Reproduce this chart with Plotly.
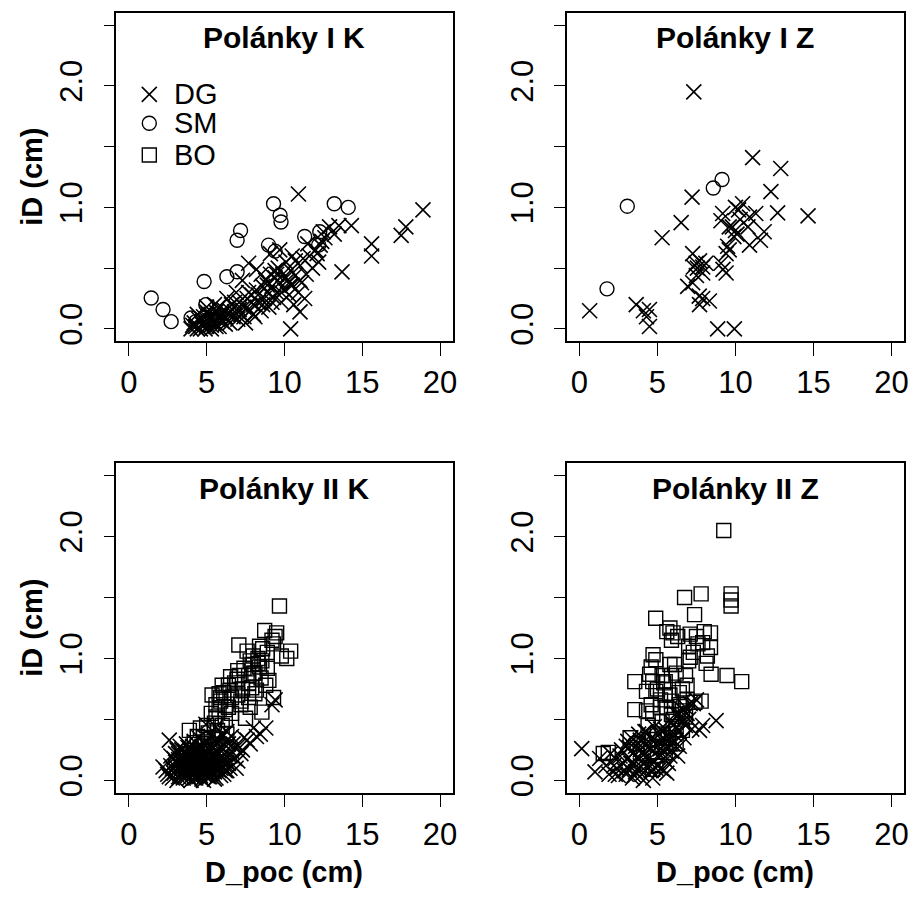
import plotly.graph_objects as go

# ---------------- data ----------------
panel_titles = ["Polánky I K", "Polánky I Z", "Polánky II K", "Polánky II Z"]
species = ["DG", "SM", "BO"]
x_ticks = [0, 5, 10, 15, 20]
y_ticks = [0, 0.5, 1.0, 1.5, 2.0, 2.5]
y_ticktext = ["0.0", "", "1.0", "", "2.0", ""]

# Polánky I K
IK_DG_x = [4.0, 4.2, 4.3, 4.5, 4.6, 4.7, 4.8, 4.9, 5.0, 5.1, 5.2, 5.3, 5.4, 5.5, 5.6, 5.7, 5.8, 5.9, 6.0, 6.1,
           6.2, 4.4, 5.0, 5.5, 6.4, 6.5, 6.6, 6.8, 7.0, 7.1, 7.2, 7.4, 7.5, 7.6, 7.8, 7.9, 8.0, 8.1, 8.2, 8.3,
           8.5, 8.6, 8.7, 8.8, 8.9, 9.0, 9.1, 9.2, 9.3, 9.4, 9.5, 9.6, 9.7, 9.8, 9.9, 10.0, 10.1, 10.2, 10.3, 10.4,
           10.5, 10.6, 10.7, 10.9, 11.0, 11.1, 11.3, 11.4, 11.6, 11.8, 12.0, 12.2, 12.4, 12.5, 12.9, 13.5, 14.3, 13.7, 12.3, 10.4,
           10.9, 15.6, 15.6, 17.5, 17.8, 18.9, 7.7, 8.2, 7.3, 6.9, 6.3, 9.1, 9.7, 10.5, 11.0, 11.5,
           4.1, 4.4, 4.7, 5.0, 5.3, 5.6, 5.9, 6.2, 6.5, 6.8, 7.1, 7.4, 7.7, 8.0, 8.3, 8.6, 8.9, 9.2, 9.5, 9.8,
           10.1, 10.4, 10.7, 11.0, 4.9, 5.8, 6.7, 7.6, 8.5, 9.4, 10.3, 11.2, 12.1, 12.6, 13.2]
IK_DG_y = [0.00, 0.05, 0.02, 0.08, 0.00, 0.04, 0.10, 0.06, 0.02, 0.12, 0.07, 0.03, 0.10, 0.05, 0.14, 0.08, 0.02, 0.12, 0.06, 0.16,
           0.10, 0.12, 0.18, 0.20, 0.12, 0.05, 0.20, 0.14, 0.08, 0.22, 0.12, 0.18, 0.05, 0.25, 0.15, 0.28, 0.20, 0.10, 0.32, 0.22,
           0.15, 0.35, 0.25, 0.40, 0.30, 0.18, 0.45, 0.35, 0.26, 0.42, 0.30, 0.50, 0.38, 0.22, 0.45, 0.32, 0.55, 0.40, 0.28, 0.48,
           0.36, 0.20, 0.44, 0.30, 0.52, 0.38, 0.25, 0.45, 0.60, 0.50, 0.65, 0.55, 0.72, 0.80, 0.84, 0.85, 0.85, 0.47, 0.69, 0.00,
           1.11, 0.70, 0.60, 0.77, 0.84, 0.98, 0.54, 0.49, 0.40, 0.30, 0.25, 0.62, 0.65, 0.60, 0.14, 0.70,
           0.03, 0.00, 0.08, 0.14, 0.00, 0.02, 0.09, 0.04, 0.15, 0.22, 0.16, 0.10, 0.30, 0.12, 0.28, 0.20, 0.36, 0.22, 0.45, 0.30,
           0.42, 0.36, 0.56, 0.40, 0.00, 0.18, 0.10, 0.18, 0.45, 0.48, 0.38, 0.58, 0.62, 0.75, 0.78]
IK_SM_x = [1.44, 2.2, 2.72, 4.0, 4.3, 4.95, 4.84, 6.3, 6.96, 6.96, 7.18, 8.98, 9.3, 9.72, 9.78, 9.4, 11.3, 12.27, 12.2, 13.2, 14.1, 5.5]
IK_SM_y = [0.255, 0.16, 0.06, 0.09, 0.06, 0.20, 0.39, 0.43, 0.47, 0.73, 0.81, 0.69, 1.03, 0.935, 0.88, 0.64, 0.76, 0.80, 0.69, 1.03, 1.00, 0.08]
IK_BO_x = []
IK_BO_y = []

# Polánky I Z
IZ_DG_x = [7.33, 0.66, 3.64, 4.1, 4.49, 4.49, 4.3, 5.3, 6.52, 7.22, 11.1, 12.9, 12.27, 12.7, 14.65, 11.3, 10.46, 10.2, 10.9, 10.8,
           11.84, 11.6, 10.9, 9.8, 10.0, 9.6, 10.1, 9.9, 9.18, 9.07, 9.5, 9.4, 9.6, 9.07, 9.4, 9.2, 7.26, 7.48, 7.7, 7.9,
           7.3, 8.1, 7.56, 6.94, 7.26, 7.68, 7.9, 8.33, 8.86, 9.93, 7.5, 7.9, 7.7, 10.3, 10.0]
IZ_DG_y = [1.95, 0.15, 0.20, 0.15, 0.16, 0.02, 0.10, 0.75, 0.875, 1.085, 1.41, 1.32, 1.13, 0.955, 0.93, 0.95, 1.03, 0.98, 0.92, 0.84,
           0.80, 0.73, 0.69, 0.84, 0.81, 0.84, 0.78, 0.76, 0.95, 0.89, 0.68, 0.62, 0.65, 0.54, 0.46, 0.49, 0.62, 0.54, 0.56, 0.51,
           0.51, 0.54, 0.50, 0.35, 0.38, 0.27, 0.25, 0.23, 0.00, 0.00, 0.44, 0.46, 0.20, 0.90, 1.00]
IZ_SM_x = [3.07, 1.77, 8.58, 9.14]
IZ_SM_y = [1.01, 0.33, 1.16, 1.23]
IZ_BO_x = []
IZ_BO_y = []

# Polánky II K
IIK_DG_x = [2.5, 2.7, 2.8, 2.9, 3.0, 3.1, 3.1, 3.2, 3.3, 3.3, 3.4, 3.5, 3.5, 3.6, 3.6, 3.7, 3.7, 3.8, 3.8, 3.9,
            3.9, 4.0, 4.0, 4.1, 4.1, 4.2, 4.2, 4.3, 4.3, 4.4, 4.4, 4.5, 4.5, 4.6, 4.6, 4.7, 4.7, 4.8, 4.8, 4.9,
            4.9, 5.0, 5.0, 5.1, 5.1, 5.2, 5.2, 5.3, 5.3, 5.4, 5.4, 5.5, 5.5, 5.6, 5.6, 5.7, 5.8, 5.8, 5.9, 6.0,
            6.0, 6.1, 6.2, 6.3, 6.4, 6.5, 6.6, 6.8, 7.0, 7.2, 3.4, 4.0, 4.5, 5.0, 3.6, 4.2, 4.8, 5.5, 5.9, 4.4,
            2.6, 2.2, 8.45, 8.0, 7.6, 8.8, 4.95, 9.4, 9.2, 5.6, 6.3, 3.0,
            2.4, 2.6, 2.8, 3.0, 3.2, 3.4, 3.6, 3.8, 4.0, 4.2, 4.4, 4.6, 4.8, 5.0, 5.2, 5.4, 5.6, 5.8, 6.0, 6.2,
            2.7, 2.9, 3.1, 3.3, 3.5, 3.7, 3.9, 4.1, 4.3, 4.5, 4.7, 4.9, 5.1, 5.3, 5.5, 5.7, 5.9, 6.1, 6.3, 6.5,
            3.0, 3.2, 3.4, 3.6, 3.8, 4.0, 4.2, 4.4, 4.6, 4.8, 5.0, 5.2, 5.4, 5.6, 5.8, 6.0, 6.4, 6.7, 7.0, 7.3,
            3.5, 3.9, 4.3, 4.7, 5.1, 5.5, 5.9, 6.3, 3.3, 4.1, 4.9, 5.7, 6.6, 6.9, 7.4, 7.8, 8.2, 4.6, 5.3, 6.2]
IIK_DG_y = [0.05, 0.12, 0.02, 0.18, 0.08, 0.00, 0.14, 0.22, 0.05, 0.28, 0.10, 0.16, 0.02, 0.24, 0.07, 0.12, 0.30, 0.04, 0.19, 0.09,
            0.26, 0.00, 0.14, 0.21, 0.06, 0.32, 0.11, 0.17, 0.02, 0.25, 0.08, 0.13, 0.35, 0.04, 0.20, 0.10, 0.28, 0.15, 0.00, 0.22,
            0.07, 0.12, 0.31, 0.03, 0.18, 0.25, 0.09, 0.14, 0.36, 0.05, 0.21, 0.11, 0.29, 0.16, 0.02, 0.23, 0.08, 0.33, 0.18, 0.12,
            0.27, 0.05, 0.21, 0.15, 0.30, 0.10, 0.24, 0.18, 0.28, 0.22, 0.20, 0.24, 0.18, 0.20, 0.15, 0.05, 0.09, 0.07, 0.10, 0.15,
            0.33, 0.11, 0.38, 0.43, 0.33, 0.43, 0.46, 0.66, 0.62, 0.44, 0.40, 0.22,
            0.08, 0.03, 0.10, 0.15, 0.03, 0.07, 0.19, 0.13, 0.08, 0.02, 0.20, 0.26, 0.05, 0.17, 0.03, 0.27, 0.09, 0.14, 0.20, 0.08,
            0.20, 0.06, 0.25, 0.16, 0.08, 0.22, 0.02, 0.28, 0.09, 0.03, 0.17, 0.14, 0.26, 0.06, 0.19, 0.12, 0.27, 0.16, 0.08, 0.20,
            0.11, 0.17, 0.25, 0.04, 0.27, 0.18, 0.24, 0.05, 0.14, 0.31, 0.06, 0.20, 0.15, 0.34, 0.22, 0.38, 0.14, 0.30, 0.16, 0.25,
            0.12, 0.16, 0.07, 0.01, 0.10, 0.01, 0.04, 0.33, 0.12, 0.12, 0.04, 0.30, 0.36, 0.10, 0.35, 0.30, 0.36, 0.24, 0.29, 0.12]
IIK_SM_x = []
IIK_SM_y = []
IIK_BO_x = [9.68, 8.73, 9.5, 9.2, 9.3, 7.07, 10.4, 10.15, 8.0, 8.3, 8.55, 7.8, 7.92, 8.4, 8.9, 8.1, 7.7, 8.5, 6.54, 6.95,
            6.4, 6.0, 5.8, 5.35, 7.9, 8.1, 7.7, 9.3, 8.55, 7.5, 6.4, 5.8, 5.6, 6.2, 3.89, 4.6, 5.1, 5.7, 4.4, 7.2,
            7.3, 5.9, 6.1, 6.6, 7.0, 8.8, 9.0,
            5.0, 5.3, 5.6, 5.9, 6.2, 6.5, 6.8, 7.1, 7.4, 7.7, 8.0, 8.3, 8.6, 4.8, 5.5, 6.0, 6.6, 7.2, 7.8, 8.4,
            8.9, 9.4, 4.2, 4.9, 5.6, 6.3, 7.0, 7.6, 8.2, 9.8]
IIK_BO_y = [1.43, 1.23, 1.21, 1.15, 1.12, 1.11, 1.06, 1.00, 1.02, 1.00, 0.98, 0.98, 0.95, 0.93, 0.92, 0.88, 0.86, 0.84, 0.85, 0.83,
            0.78, 0.78, 0.71, 0.70, 0.76, 0.71, 0.68, 0.68, 0.56, 0.51, 0.60, 0.58, 0.52, 0.50, 0.41, 0.43, 0.39, 0.41, 0.36, 0.62,
            0.75, 0.65, 0.72, 0.68, 0.70, 0.78, 0.82,
            0.45, 0.55, 0.62, 0.68, 0.58, 0.74, 0.80, 0.86, 0.92, 0.80, 0.88, 0.96, 1.08, 0.35, 0.47, 0.45, 0.55, 0.65, 0.60, 1.10,
            1.05, 1.18, 0.31, 0.30, 0.34, 0.38, 0.90, 1.06, 0.74, 1.02]

# Polánky II Z
IIZ_DG_x = [0.15, 1.0, 1.3, 1.7, 2.4, 2.3, 3.0, 8.76, 7.7, 7.9, 7.5, 7.1, 6.6, 2.0, 2.6, 2.8, 3.0, 3.1, 3.2, 3.3,
            3.4, 3.5, 3.5, 3.6, 3.7, 3.8, 3.8, 3.9, 4.0, 4.0, 4.1, 4.2, 4.3, 4.3, 4.4, 4.5, 4.6, 4.6, 4.7, 4.8,
            4.8, 4.9, 5.0, 5.1, 5.2, 5.2, 5.3, 5.4, 5.5, 5.6, 5.7, 5.8, 5.9, 6.0, 6.1, 6.2, 6.3, 6.4, 6.5, 6.7,
            6.8, 7.0, 3.2, 4.5, 3.9, 5.6,
            2.2, 2.5, 2.7, 2.9, 3.1, 3.3, 3.6, 3.8, 4.0, 4.2, 4.4, 4.6, 4.8, 5.0, 5.2, 5.4, 5.6, 5.8, 6.0, 6.2,
            6.4, 6.6, 6.8, 7.2, 3.4, 3.9, 4.4, 4.9, 5.4, 5.9, 6.4, 1.9, 2.3, 4.1, 4.7, 5.3, 5.8, 6.1, 6.9, 7.3]
IIZ_DG_y = [0.26, 0.07, 0.18, 0.12, 0.10, 0.05, 0.05, 0.49, 0.41, 0.45, 0.66, 0.63, 0.48, 0.22, 0.20, 0.14, 0.28, 0.18, 0.09, 0.35,
            0.22, 0.14, 0.04, 0.28, 0.19, 0.10, 0.38, 0.25, 0.16, 0.05, 0.31, 0.22, 0.12, 0.40, 0.27, 0.18, 0.08, 0.34, 0.24, 0.15,
            0.44, 0.30, 0.20, 0.38, 0.26, 0.10, 0.33, 0.18, 0.42, 0.28, 0.14, 0.36, 0.24, 0.45, 0.32, 0.55, 0.20, 0.40, 0.52, 0.35,
            0.60, 0.50, 0.27, 0.12, 0.33, 0.06,
            0.12, 0.04, 0.25, 0.08, 0.32, 0.14, 0.07, 0.30, 0.22, 0.40, 0.10, 0.26, 0.34, 0.12, 0.42, 0.28, 0.36, 0.20, 0.30, 0.44,
            0.28, 0.58, 0.45, 0.42, 0.02, 0.12, 0.32, 0.10, 0.08, 0.48, 0.55, 0.05, 0.18, 0.00, 0.02, 0.22, 0.30, 0.38, 0.55, 0.63]
IIZ_SM_x = []
IIZ_SM_y = []
IIZ_BO_x = [9.25, 7.8, 6.74, 9.72, 9.72, 9.72, 7.38, 4.89, 5.8, 6.0, 6.3, 5.6, 5.9, 7.1, 7.5, 8.0, 8.4, 8.4, 7.9, 7.0,
            7.1, 7.3, 8.12, 8.44, 9.46, 10.4, 4.72, 4.9, 4.6, 5.8, 3.55, 4.5, 4.7, 5.3, 5.5, 5.9, 6.8, 6.9, 4.3, 4.9,
            5.5, 5.9, 3.55, 4.3, 5.2, 6.6, 6.8, 7.4, 7.8, 5.9, 6.2, 6.6, 1.85, 1.53, 3.25, 3.7, 4.1, 4.7, 4.9, 5.5,
            6.0, 5.3, 6.4,
            5.0, 5.4, 5.8, 6.2, 6.6, 7.0, 4.6, 5.2, 5.6, 6.4, 6.9, 7.6, 8.2, 4.4, 5.0, 5.7, 6.2, 5.3, 4.7, 6.1]
IIZ_BO_y = [2.05, 1.53, 1.50, 1.53, 1.48, 1.43, 1.36, 1.33, 1.25, 1.21, 1.18, 1.22, 1.15, 1.20, 1.18, 1.22, 1.21, 1.09, 1.13, 1.10,
            1.01, 1.05, 0.96, 0.87, 0.86, 0.81, 1.03, 0.99, 0.93, 0.95, 0.81, 0.87, 0.81, 0.86, 0.81, 0.86, 0.86, 0.78, 0.73, 0.73,
            0.70, 0.65, 0.58, 0.57, 0.60, 0.57, 0.52, 0.64, 0.65, 0.54, 0.44, 0.41, 0.23, 0.22, 0.35, 0.30, 0.22, 0.09, 0.12, 0.23,
            0.50, 0.48, 0.62,
            0.75, 0.80, 0.70, 0.88, 0.75, 0.98, 0.62, 0.66, 0.60, 0.72, 0.66, 1.12, 1.02, 0.45, 0.38, 0.35, 0.30, 0.28, 0.55, 0.95]

panel_data = [
    {"DG": (IK_DG_x, IK_DG_y), "SM": (IK_SM_x, IK_SM_y), "BO": (IK_BO_x, IK_BO_y)},
    {"DG": (IZ_DG_x, IZ_DG_y), "SM": (IZ_SM_x, IZ_SM_y), "BO": (IZ_BO_x, IZ_BO_y)},
    {"DG": (IIK_DG_x, IIK_DG_y), "SM": (IIK_SM_x, IIK_SM_y), "BO": (IIK_BO_x, IIK_BO_y)},
    {"DG": (IIZ_DG_x, IIZ_DG_y), "SM": (IIZ_SM_x, IIZ_SM_y), "BO": (IIZ_BO_x, IIZ_BO_y)},
]

# ---------------- layout / style ----------------
W, H = 916, 901
FONT = "Liberation Sans, Arial, Helvetica, sans-serif"
x_range = [-0.8, 20.8]
y_range = [-0.1, 2.6]

# panel boxes in pixels: (left, right, top, bottom)
boxes = [(117, 455, 13, 343), (570, 909, 13, 343), (117, 455, 466, 797), (570, 909, 466, 797)]

sym = {
    "DG": dict(symbol="x-thin-open", size=15, color="black", line=dict(color="black", width=1.6)),
    "SM": dict(symbol="circle-open", size=14, color="black", line=dict(color="black", width=1.4)),
    "BO": dict(symbol="square-open", size=14, color="black", line=dict(color="black", width=1.4)),
}

fig = go.Figure()
layout = dict(
    width=W, height=H, margin=dict(l=0, r=0, t=0, b=0),
    paper_bgcolor="white", plot_bgcolor="white", showlegend=False,
    font=dict(family=FONT, color="black"),
)
annotations = []

for i, (l, r, t, b) in enumerate(boxes):
    n = "" if i == 0 else str(i + 1)
    xd = [l / W, r / W]
    yd = [1 - b / H, 1 - t / H]
    common = dict(showgrid=False, zeroline=False, showline=True, mirror=True,
                  linecolor="black", linewidth=1.5, ticks="outside", tickcolor="black",
                  tickwidth=1.3, tickfont=dict(size=31, family=FONT, color="black"))
    layout["xaxis" + n] = dict(domain=xd, range=x_range, anchor="y" + n, tickvals=x_ticks,
                               ticktext=[str(v) for v in x_ticks], ticklen=13, **common)
    layout["yaxis" + n] = dict(domain=yd, range=y_range, anchor="x" + n, tickvals=y_ticks,
                               ticktext=y_ticktext, ticklen=11, tickangle=-90,
                               ticklabelstandoff=9, **common)
    for sp in species:
        xs, ys = panel_data[i][sp]
        if len(xs) == 0:
            continue
        fig.add_trace(go.Scatter(x=xs, y=ys, mode="markers", name=sp, marker=sym[sp],
                                 xaxis="x" + n, yaxis="y" + n, hoverinfo="skip"))
    # panel title
    annotations.append(dict(text="<b>%s</b>" % panel_titles[i], x=(l + r) / 2 / W, y=1 - (t + 25) / H,
                            xref="paper", yref="paper", showarrow=False, xanchor="center",
                            yanchor="middle", font=dict(size=30, family=FONT)))
    # y axis title on left panels
    if i in (0, 2):
        annotations.append(dict(text="<b>iD (cm)</b>", x=32 / W, y=1 - (t + b) / 2 / H,
                                xref="paper", yref="paper", showarrow=False, textangle=-90,
                                xanchor="center", yanchor="middle", font=dict(size=29, family=FONT)))
    # x axis title on bottom panels
    if i in (2, 3):
        annotations.append(dict(text="<b>D_poc (cm)</b>", x=(l + r) / 2 / W, y=1 - 877 / H,
                                xref="paper", yref="paper", showarrow=False,
                                xanchor="center", yanchor="middle", font=dict(size=29, family=FONT)))

# legend inside first panel (positions as fractions of the axis box)
leg_xf, leg_txf = 0.098, 0.166
leg_yf = [0.752, 0.664, 0.567]
lx = x_range[0] + leg_xf * (x_range[1] - x_range[0])
for sp, yf in zip(species, leg_yf):
    ly = y_range[0] + yf * (y_range[1] - y_range[0])
    fig.add_trace(go.Scatter(x=[lx], y=[ly], mode="markers", marker=sym[sp], xaxis="x", yaxis="y",
                             hoverinfo="skip", showlegend=False))
    annotations.append(dict(text=sp, x=leg_txf, y=yf, xref="x domain", yref="y domain",
                            showarrow=False, xanchor="left", yanchor="middle",
                            font=dict(size=29, family=FONT)))

layout["annotations"] = annotations
fig.update_layout(**layout)
fig.write_html("out.html", config={"displayModeBar": False},
               post_script="document.body.style.margin='0';document.body.style.overflow='hidden';")
